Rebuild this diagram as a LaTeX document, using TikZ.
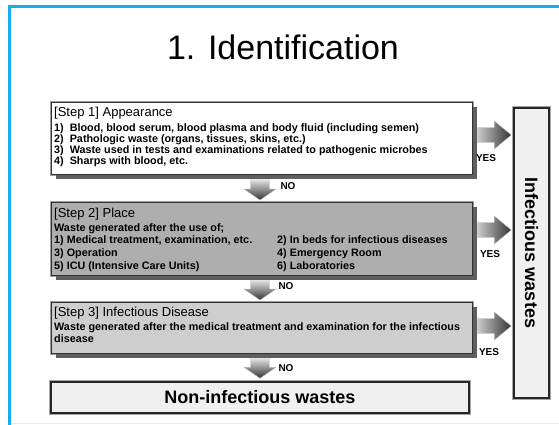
\documentclass[tikz,border=0pt]{standalone}
\usepackage{fontspec}
\setmainfont{Liberation Sans}
\usetikzlibrary{calc,shadows}
\definecolor{frameblue}{RGB}{22,172,240}
\definecolor{bordergray}{RGB}{50,50,50}
\definecolor{shadowgray}{RGB}{95,95,95}
\definecolor{fillA}{RGB}{255,255,255}
\definecolor{fillB}{RGB}{174,174,174}
\definecolor{fillC}{RGB}{206,206,206}
\definecolor{fillD}{RGB}{240,240,240}
\newcommand\dnblock[2]{%
  \path[dnarrow] let \p1=(#1), \p2=(#2) in
    (\x1-9.5,\y1) -- (\x1+9.5,\y1) -- (\x1+9.5,\y2+11) -- (\x1+16,\y2+11) --
    (\x1,\y2) -- (\x1-16,\y2+11) -- (\x1-9.5,\y2+11) -- cycle;}
\newcommand\hzblock[2]{%
  \path[hzarrow] let \p1=(#1), \p2=(#2) in
    (\x1,\y1+7.5) -- (\x2-17,\y1+7.5) -- (\x2-17,\y1+14) -- (\x2,\y1) --
    (\x2-17,\y1-14) -- (\x2-17,\y1-7.5) -- (\x1,\y1-7.5) -- cycle;}
\begin{document}
\begin{tikzpicture}[x=1bp,y=-1bp,
  stepbox/.style={draw=bordergray, line width=1.1bp,
    preaction={draw=gray!75, line width=2.6bp},
    general shadow={fill=shadowgray, shadow xshift=4bp, shadow yshift=-4.5bp},
    minimum width=421bp, inner sep=0, anchor=north west},
  endbox/.style={draw=black!85, line width=1.6bp, fill=fillD,
    preaction={draw=gray!70, line width=3.6bp}, inner sep=0,
    font=\bfseries\fontsize{18bp}{20bp}\selectfont},
  head/.style={anchor=base west, inner sep=0, font=\fontsize{13bp}{14bp}\selectfont},
  item/.style={anchor=base west, inner sep=0, font=\bfseries\fontsize{10.8bp}{12bp}\selectfont},
  yn/.style={inner sep=0, font=\bfseries\fontsize{10bp}{11bp}\selectfont},
  dnarrow/.style={top color=white, bottom color=black!80, draw=gray!60, line width=0.4bp},
  hzarrow/.style={left color=white, right color=black!80, draw=gray!60, line width=0.4bp},
]
\useasboundingbox (0,0) rectangle (559,424);
\fill[white] (0,0) rectangle (559,424);
% frame
\draw[frameblue!18, line width=1bp] (9.5,423.5) -- (565,423.5);
\draw[frameblue, line width=3bp] (9.5,430) -- (9.5,6) -- (565,6);

% title
\node[anchor=base, inner sep=0, font=\fontsize{34bp}{36bp}\selectfont] (title) at (283,59) {1. Identification};

% end boxes
\node[endbox, minimum width=290bp, minimum height=35bp, rotate=-90] (inf) at (531.5,253) {Infectious wastes};
\node[endbox, minimum width=418bp, minimum height=31bp] (non) at (260,397.5) {Non-infectious wastes};

% YES arrows (behind step boxes)
\coordinate (h1a) at (466,135);
\coordinate (h2a) at (466,230);
\coordinate (h3a) at (466,326);
\coordinate (h1b) at ($(inf.south|-h1a)+(-2,0)$);
\coordinate (h2b) at ($(inf.south|-h2a)+(-2,0)$);
\coordinate (h3b) at ($(inf.south|-h3a)+(-2,0)$);
\hzblock{h1a}{h1b}
\hzblock{h2a}{h2b}
\hzblock{h3a}{h3b}

% NO arrows
\coordinate (d1a) at (260,176);
\coordinate (d1b) at (260,200);
\coordinate (d2a) at (260,277);
\coordinate (d2b) at (260,300);
\coordinate (d3a) at (260,355);
\coordinate (d3b) at ($(non.north-|d3a)+(0,-3)$);
\dnblock{d1a}{d1b}
\dnblock{d2a}{d2b}
\dnblock{d3a}{d3b}

% step boxes
\node[stepbox, fill=fillA, minimum height=72bp] (s1) at (51,102) {};
\node[stepbox, fill=fillB, minimum height=73bp] (s2) at (51,202) {};
\node[stepbox, fill=fillC, minimum height=51bp] (s3) at (51,302) {};

% step 1 text
\node[head] (s1h) at (54,116.5) {[Step 1] Appearance};
\node[item] (s1i1) at (54,131.3) {1)\ \ Blood, blood serum, blood plasma and body fluid (including semen)};
\node[item] (s1i2) at (54,142.7) {2)\ \ Pathologic waste (organs, tissues, skins, etc.)};
\node[item] (s1i3) at (54,153.3) {3)\ \ Waste used in tests and examinations related to pathogenic microbes};
\node[item] (s1i4) at (54,164.7) {4)\ \ Sharps with blood, etc.};

% step 2 text
\node[head] (s2h) at (54,217.8) {[Step 2] Place};
\node[item] (s2i0) at (54,231.3) {Waste generated after the use of;};
\node[item] (s2i1) at (54,243.3) {1) Medical treatment, examination, etc.};
\node[item] (s2i3) at (54,256.3) {3) Operation};
\node[item] (s2i5) at (54,269) {5) ICU (Intensive Care Units)};
\node[item] (s2i2) at (277,243.3) {2) In beds for infectious diseases};
\node[item] (s2i4) at (277,256.3) {4) Emergency Room};
\node[item] (s2i6) at (277,269) {6) Laboratories};

% step 3 text
\node[head] (s3h) at (54,316.8) {[Step 3] Infectious Disease};
\node[item] (s3i1) at (54,330.7) {Waste generated after the medical treatment and examination for the infectious};
\node[item] (s3i2) at (54,342.3) {disease};

% labels
\node[yn] (yes1) at (486,158) {YES};
\node[yn] (yes2) at (490,254) {YES};
\node[yn] (yes3) at (489,352) {YES};
\node[yn] (no1) at (288,186) {NO};
\node[yn] (no2) at (286,286) {NO};
\node[yn] (no3) at (286,368) {NO};
\end{tikzpicture}
\end{document}
